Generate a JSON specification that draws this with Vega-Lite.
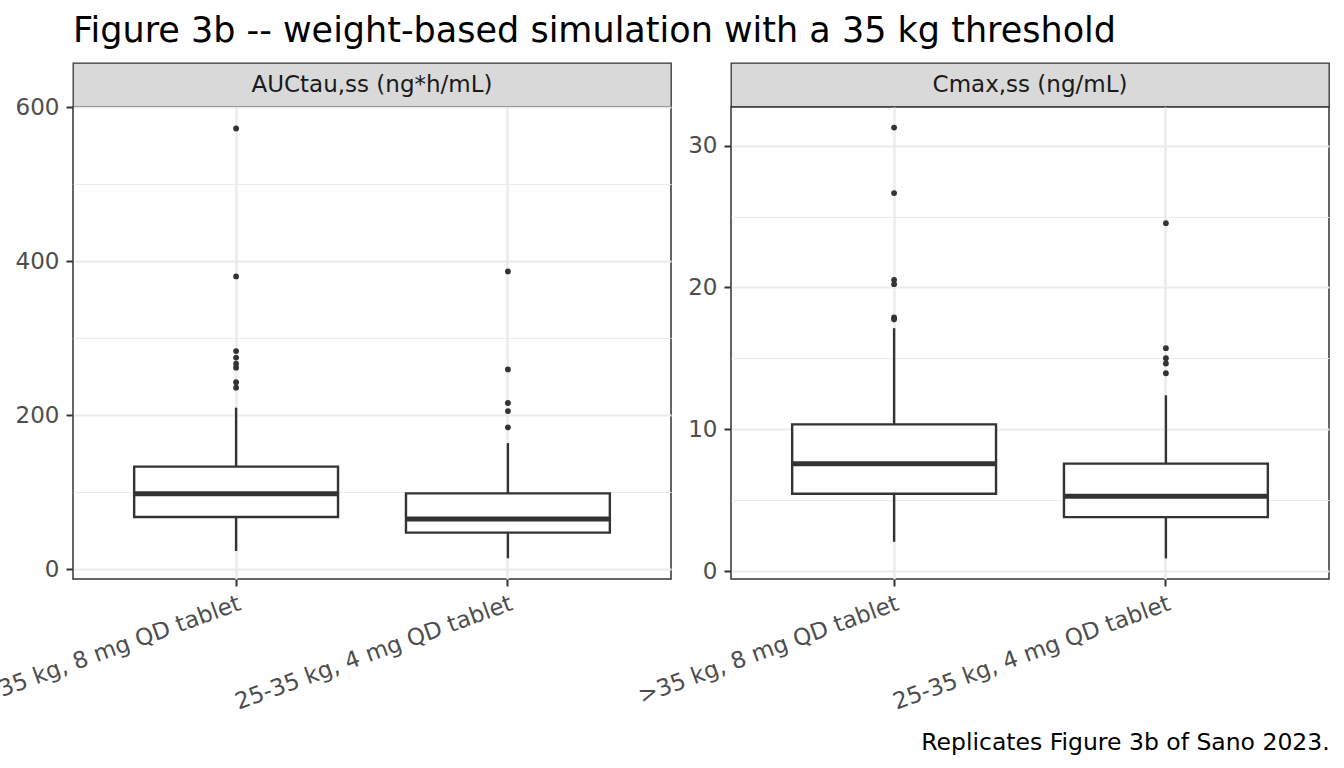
{
  "$schema": "https://vega.github.io/schema/vega-lite/v6.json",
  "autosize": {"type": "none"},
  "padding": {"left": 73, "top": 63, "right": 1271, "bottom": 705},
  "background": "white",
  "title": {
    "text": "Figure 3b -- weight-based simulation with a 35 kg threshold",
    "anchor": "start",
    "frame": "group",
    "font": "DejaVu Sans",
    "fontSize": 35,
    "fontWeight": "normal",
    "color": "black",
    "offset": 13
  },
  "datasets": {
    "auc_box": [
      {"group": ">35 kg, 8 mg QD tablet", "lower": 23.8, "q1": 67.9, "median": 98.3, "q3": 133.4, "upper": 210},
      {"group": "25-35 kg, 4 mg QD tablet", "lower": 14.3, "q1": 47.6, "median": 65.3, "q3": 98.7, "upper": 164}
    ],
    "auc_out": [
      {"group": ">35 kg, 8 mg QD tablet", "value": 572.7},
      {"group": ">35 kg, 8 mg QD tablet", "value": 380.5},
      {"group": ">35 kg, 8 mg QD tablet", "value": 283.5},
      {"group": ">35 kg, 8 mg QD tablet", "value": 275},
      {"group": ">35 kg, 8 mg QD tablet", "value": 267},
      {"group": ">35 kg, 8 mg QD tablet", "value": 262},
      {"group": ">35 kg, 8 mg QD tablet", "value": 243},
      {"group": ">35 kg, 8 mg QD tablet", "value": 236},
      {"group": "25-35 kg, 4 mg QD tablet", "value": 387},
      {"group": "25-35 kg, 4 mg QD tablet", "value": 259.7},
      {"group": "25-35 kg, 4 mg QD tablet", "value": 216},
      {"group": "25-35 kg, 4 mg QD tablet", "value": 205.6},
      {"group": "25-35 kg, 4 mg QD tablet", "value": 184.4}
    ],
    "cmax_box": [
      {"group": ">35 kg, 8 mg QD tablet", "lower": 2.07, "q1": 5.46, "median": 7.57, "q3": 10.35, "upper": 17.13},
      {"group": "25-35 kg, 4 mg QD tablet", "lower": 0.9, "q1": 3.81, "median": 5.29, "q3": 7.58, "upper": 12.4}
    ],
    "cmax_out": [
      {"group": ">35 kg, 8 mg QD tablet", "value": 31.27},
      {"group": ">35 kg, 8 mg QD tablet", "value": 26.65},
      {"group": ">35 kg, 8 mg QD tablet", "value": 20.54},
      {"group": ">35 kg, 8 mg QD tablet", "value": 20.23},
      {"group": ">35 kg, 8 mg QD tablet", "value": 17.88},
      {"group": ">35 kg, 8 mg QD tablet", "value": 17.76},
      {"group": "25-35 kg, 4 mg QD tablet", "value": 24.53},
      {"group": "25-35 kg, 4 mg QD tablet", "value": 15.72},
      {"group": "25-35 kg, 4 mg QD tablet", "value": 15.01},
      {"group": "25-35 kg, 4 mg QD tablet", "value": 14.64},
      {"group": "25-35 kg, 4 mg QD tablet", "value": 13.95}
    ],
    "strips": [
      {"panel": "auc", "label": "AUCtau,ss (ng*h/mL)"},
      {"panel": "cmax", "label": "Cmax,ss (ng/mL)"}
    ]
  },
  "vconcat": [
    {
      "title": {
        "text": "Replicates Figure 3b of Sano 2023.",
        "orient": "bottom",
        "anchor": "end",
        "frame": "bounds",
        "font": "DejaVu Sans",
        "fontSize": 23.5,
        "fontWeight": "normal",
        "color": "black",
        "offset": 16
      },
      "bounds": "flush",
      "columns": 2,
      "spacing": {"row": 0, "column": 60},
      "concat": [
        {
          "width": 598,
          "height": 44,
          "data": {"name": "strips"},
          "transform": [{"filter": "datum.panel === 'auc'"}],
          "view": {"fill": "#d9d9d9", "stroke": "#333333", "strokeWidth": 1.3},
          "mark": {"type": "text", "font": "DejaVu Sans", "fontSize": 23, "color": "#1a1a1a"},
          "encoding": {"text": {"field": "label", "type": "nominal"}}
        },
        {
          "width": 598,
          "height": 44,
          "data": {"name": "strips"},
          "transform": [{"filter": "datum.panel === 'cmax'"}],
          "view": {"fill": "#d9d9d9", "stroke": "#333333", "strokeWidth": 1.3},
          "mark": {"type": "text", "font": "DejaVu Sans", "fontSize": 23, "color": "#1a1a1a"},
          "encoding": {"text": {"field": "label", "type": "nominal"}}
        },
        {
          "width": 598,
          "height": 472,
          "view": {"fill": "white", "stroke": "#333333", "strokeWidth": 1.5},
          "resolve": {"axis": {"y": "independent"}},
          "layer": [
            {
              "data": {"name": "auc_box"},
              "mark": {"type": "rule", "color": "#333333", "strokeWidth": 2.4},
              "encoding": {
                "x": {"field": "group", "type": "nominal", "sort": null, "scale": {"type": "band", "paddingInner": 0.25, "paddingOuter": 0.225}, "title": null},
                "y": {"field": "lower", "type": "quantitative", "scale": {"domain": [-12.6, 600.6], "nice": false, "zero": false},
                  "axis": {"orient": "right", "values": [100, 300, 500], "grid": true, "gridWidth": 1.2, "labels": false, "ticks": false, "domain": false, "title": null, "minExtent": 0, "maxExtent": 0}},
                "y2": {"field": "q1"}
              }
            },
            {
              "data": {"name": "auc_box"},
              "mark": {"type": "rule", "color": "#333333", "strokeWidth": 2.4},
              "encoding": {
                "x": {"field": "group", "type": "nominal", "sort": null},
                "y": {"field": "q3", "type": "quantitative", "axis": null},
                "y2": {"field": "upper"}
              }
            },
            {
              "data": {"name": "auc_box"},
              "mark": {"type": "rect", "fill": "white", "stroke": "#333333", "strokeWidth": 2.4},
              "encoding": {
                "x": {"field": "group", "type": "nominal", "sort": null},
                "y": {"field": "q1", "type": "quantitative",
                  "axis": {"orient": "left", "values": [0, 200, 400, 600], "grid": true, "gridWidth": 2.2, "title": null}},
                "y2": {"field": "q3"}
              }
            },
            {
              "data": {"name": "auc_box"},
              "mark": {"type": "rect", "fill": "#333333", "stroke": "#333333", "strokeWidth": 5},
              "encoding": {
                "x": {"field": "group", "type": "nominal", "sort": null},
                "y": {"field": "median", "type": "quantitative", "axis": null},
                "y2": {"field": "median"}
              }
            },
            {
              "data": {"name": "auc_out"},
              "mark": {"type": "circle", "color": "#333333", "size": 34, "opacity": 1},
              "encoding": {
                "x": {"field": "group", "type": "nominal", "sort": null},
                "y": {"field": "value", "type": "quantitative", "axis": null}
              }
            }
          ]
        },
        {
          "width": 598,
          "height": 472,
          "view": {"fill": "white", "stroke": "#333333", "strokeWidth": 1.5},
          "resolve": {"axis": {"y": "independent"}},
          "layer": [
            {
              "data": {"name": "cmax_box"},
              "mark": {"type": "rule", "color": "#333333", "strokeWidth": 2.4},
              "encoding": {
                "x": {"field": "group", "type": "nominal", "sort": null, "scale": {"type": "band", "paddingInner": 0.25, "paddingOuter": 0.225}, "title": null},
                "y": {"field": "lower", "type": "quantitative", "scale": {"domain": [-0.55, 32.72], "nice": false, "zero": false},
                  "axis": {"orient": "right", "values": [5, 15, 25], "grid": true, "gridWidth": 1.2, "labels": false, "ticks": false, "domain": false, "title": null, "minExtent": 0, "maxExtent": 0}},
                "y2": {"field": "q1"}
              }
            },
            {
              "data": {"name": "cmax_box"},
              "mark": {"type": "rule", "color": "#333333", "strokeWidth": 2.4},
              "encoding": {
                "x": {"field": "group", "type": "nominal", "sort": null},
                "y": {"field": "q3", "type": "quantitative", "axis": null},
                "y2": {"field": "upper"}
              }
            },
            {
              "data": {"name": "cmax_box"},
              "mark": {"type": "rect", "fill": "white", "stroke": "#333333", "strokeWidth": 2.4},
              "encoding": {
                "x": {"field": "group", "type": "nominal", "sort": null},
                "y": {"field": "q1", "type": "quantitative",
                  "axis": {"orient": "left", "values": [0, 10, 20, 30], "grid": true, "gridWidth": 2.2, "title": null}},
                "y2": {"field": "q3"}
              }
            },
            {
              "data": {"name": "cmax_box"},
              "mark": {"type": "rect", "fill": "#333333", "stroke": "#333333", "strokeWidth": 5},
              "encoding": {
                "x": {"field": "group", "type": "nominal", "sort": null},
                "y": {"field": "median", "type": "quantitative", "axis": null},
                "y2": {"field": "median"}
              }
            },
            {
              "data": {"name": "cmax_out"},
              "mark": {"type": "circle", "color": "#333333", "size": 34, "opacity": 1},
              "encoding": {
                "x": {"field": "group", "type": "nominal", "sort": null},
                "y": {"field": "value", "type": "quantitative", "axis": null}
              }
            }
          ]
        }
      ]
    }
  ],
  "config": {
    "font": "DejaVu Sans",
    "axis": {
      "labelFont": "DejaVu Sans",
      "labelFontSize": 23,
      "labelColor": "#4d4d4d",
      "tickColor": "#333333",
      "tickSize": 7,
      "tickWidth": 2,
      "labelPadding": 7,
      "domain": false,
      "gridColor": "#ebebeb"
    },
    "axisX": {
      "grid": true,
      "gridWidth": 2.4,
      "labelAngle": -20,
      "labelAlign": "right",
      "labelBaseline": "top",
      "labelPadding": 6,
      "labelLimit": 0
    }
  }
}
